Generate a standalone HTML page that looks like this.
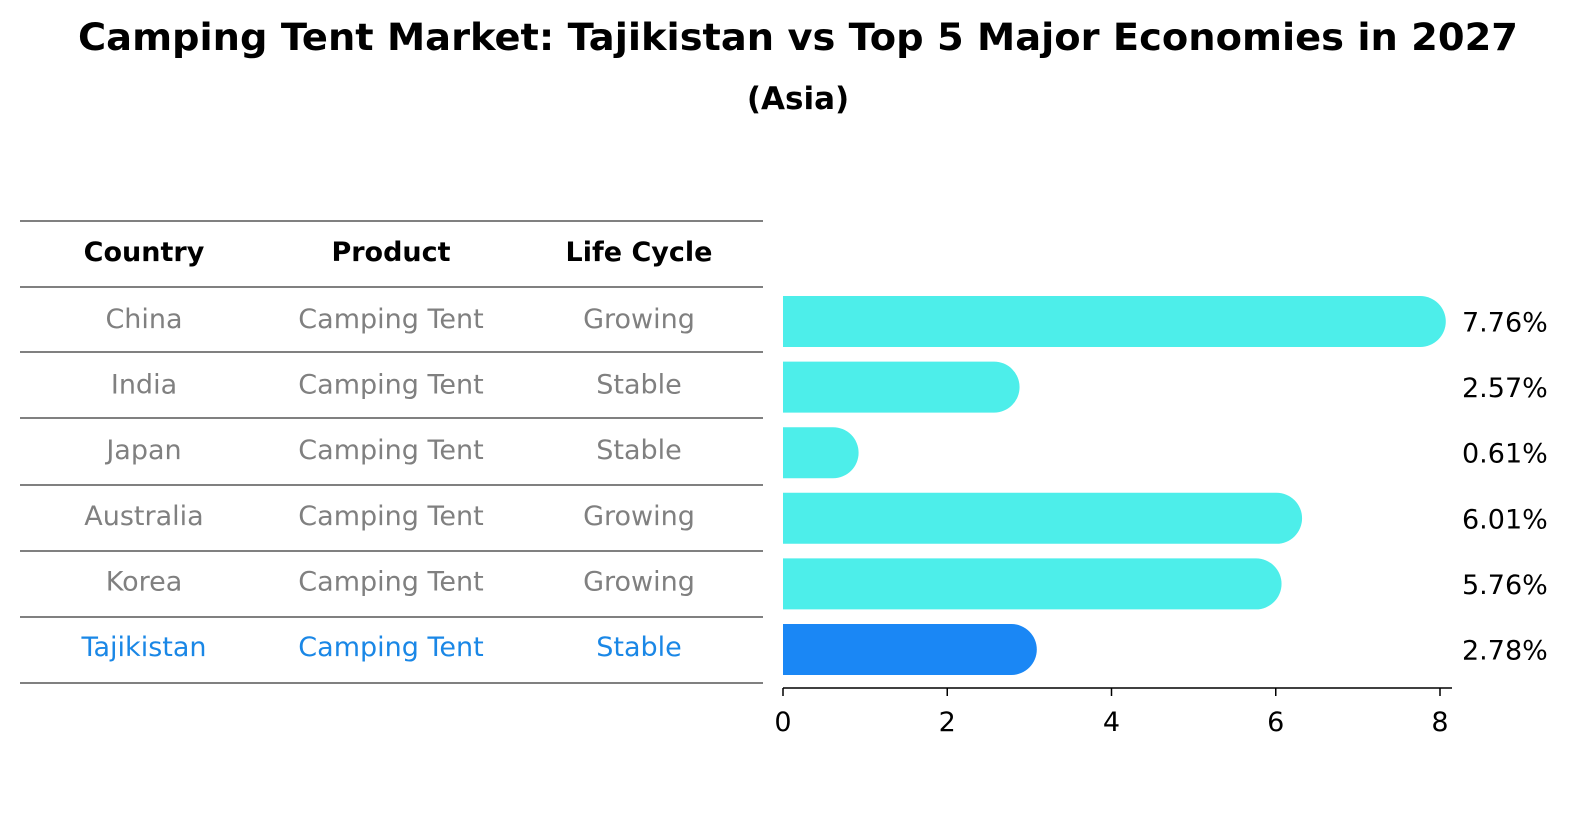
<!DOCTYPE html>
<html><head><meta charset="utf-8"><style>
html,body{margin:0;padding:0;background:#fff;overflow:hidden;width:1586px;height:823px}
svg{display:block}
svg text{font-family:"DejaVu Sans","Liberation Sans",sans-serif}
</style></head><body>
<svg id="c" width="1586" height="823" viewBox="0 0 1586 823">
<text x="798" y="50" text-anchor="middle" font-size="37" font-weight="bold" textLength="1440" lengthAdjust="spacingAndGlyphs">Camping Tent Market: Tajikistan vs Top 5 Major Economies in 2027</text>
<text x="798" y="109" text-anchor="middle" font-size="31" font-weight="bold">(Asia)</text>
<g id="tbl"></g>
<g id="bars"></g>
</svg>
<script>
const countries=["China","India","Japan","Australia","Korea","Tajikistan"];
const products=["Camping Tent","Camping Tent","Camping Tent","Camping Tent","Camping Tent","Camping Tent"];
const lifecycle=["Growing","Stable","Stable","Growing","Growing","Stable"];
const values=[7.76,2.57,0.61,6.01,5.76,2.78];
const ticks=[0,2,4,6,8];
const NS="http://www.w3.org/2000/svg";
function mk(t,a,p,txt){const e=document.createElementNS(NS,t);for(const k in a)e.setAttribute(k,a[k]);if(txt!==undefined)e.textContent=txt;p.appendChild(e);return e;}
const tbl=document.getElementById('tbl'),bars=document.getElementById('bars');
const lines=[221,287,352,418,485,551,617,683];
const cols=[144,391,639];
const FS=27;
lines.forEach((y,i)=>{const l=mk('line',{x1:20,x2:763,y1:y,y2:y,stroke:'#000','stroke-width':1},tbl);

});
["Country","Product","Life Cycle"].forEach((h,j)=>{const t=mk('text',{x:cols[j],y:261,'text-anchor':'middle','font-size':FS,'font-weight':'bold'},tbl,h);

});
const rowY=i=>319+i*65.6;
countries.forEach((c,i)=>{const col=i===5?'#1a87e6':'#808080';
[c,products[i],lifecycle[i]].forEach((v,j)=>{const t=mk('text',{x:cols[j],y:rowY(i)+9,'text-anchor':'middle','font-size':FS,fill:col},tbl,v);

});});
const x0=783,x8=1440,xs=v=>x0+(x8-x0)*v/8;
const h=51,r=25.5;
values.forEach((v,i)=>{const yc=rowY(i)+2.5,xe=xs(v);
const p=mk('path',{d:`M${x0},${yc-h/2} H${xe} A${r},${r} 0 0 1 ${xe},${yc+h/2} H${x0} Z`,fill:i===5?'#1a87f5':'#4deeea'},bars);


const t=mk('text',{x:1462,y:yc+10,'font-size':FS},bars,v.toFixed(2)+'%');

});
const ax=mk('line',{x1:x0,x2:1452,y1:688,y2:688,stroke:'#000','stroke-width':1.5},bars);


ticks.forEach(t=>{const l=mk('line',{x1:xs(t),x2:xs(t),y1:688,y2:696,stroke:'#000','stroke-width':1.5},bars);


const tx=mk('text',{x:xs(t),y:731,'text-anchor':'middle','font-size':FS},bars,t);

});
</script>
</body></html>
